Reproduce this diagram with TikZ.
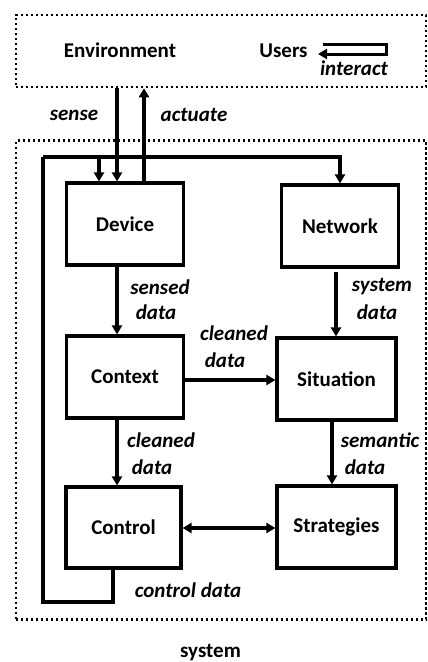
\documentclass[tikz,border=0pt]{standalone}
\usepackage{fontspec}
\setmainfont{Carlito}
\usetikzlibrary{arrows.meta,calc}
\begin{document}
\begin{tikzpicture}[x=1pt,y=-1pt,
  box/.style={draw,line width=3.2pt,minimum width=117pt,minimum height=82pt,inner sep=0pt,font=\fontsize{21}{24}\selectfont\bfseries},
  frame/.style={draw,line width=2.5pt,dash pattern=on 2.4pt off 2.6pt,inner sep=0pt},
  lbl/.style={inner sep=0pt,font=\fontsize{21}{24}\selectfont\bfseries\itshape},
  txt/.style={inner sep=0pt,font=\fontsize{21}{24}\selectfont\bfseries},
  arr/.style={line width=3.2pt,-{Triangle[length=9pt,width=10pt]}},
  ln/.style={line width=3.2pt},
  darr/.style={line width=3.2pt,{Triangle[length=9pt,width=10pt]}-{Triangle[length=9pt,width=10pt]}}]
\useasboundingbox (0,0) rectangle (428,662);
% frames
\node[frame,minimum width=410pt,minimum height=72pt] (env) at (221,51) {};
\node[frame,minimum width=410pt,minimum height=479pt] (sys) at (221,380) {};
\node[txt] (envt) at (120,50) {Environment};
\node[txt] (users) at (283.5,51) {Users};
\node[lbl] (interact) at (354,68) {interact};
\node[txt] (syst) at (210.5,653) {system};
% boxes
\node[box] (device) at (125,224) {Device};
\node[box] (network) at (340,226) {Network};
\node[box] (context) at (125,377) {Context};
\node[box,minimum width=119pt] (situation) at (336.5,379) {Situation};
\node[box,minimum width=115pt,minimum height=81pt] (control) at (123.5,527.5) {Control};
\node[box,minimum width=119pt] (strategies) at (336.5,527) {Strategies};
% helper coordinates
\coordinate (sx) at (117,0);
\coordinate (ax) at (144,0);
\coordinate (bx) at (99,0);
\coordinate (lx) at (43,0);
\coordinate (cx) at (113,0);
\coordinate (nx) at (336,0);
\coordinate (tx) at (332,0);
\coordinate (fy) at (0,157);
\coordinate (cy) at (0,602);
\coordinate (ny) at (0,272);
\coordinate (hy) at (0,380);
\coordinate (dy) at (0,528);
\coordinate (u1) at (323,44);
\coordinate (u2) at (386,44);
\coordinate (u3) at (386,54);
\coordinate (u4) at (318,54);
% users interact
\draw[line width=3pt,-{Triangle[length=9pt,width=10pt]}] (u1) -- (u2) -- (u3) -- (u4);
% sense / actuate
\draw[arr] (env.south -| sx) -- (sx |- device.north);
\draw[arr] (ax |- device.north) -- (env.south -| ax);
\node[lbl] (sense) at (74,115) {sense};
\node[lbl] (actuate) at (194,115) {actuate};
% feedback loop
\draw[ln] (cx |- control.south) -- (cx |- cy) -- (lx |- cy) -- (lx |- fy);
\draw[arr] (lx |- fy) -| (network.north);
\draw[arr] (bx |- fy) -- (bx |- device.north);
\node[lbl] (cd) at (188,590) {control data};
% data flow
\draw[arr] (sx |- device.south) -- (sx |- context.north);
\node[lbl] (sd1) at (160,287) {sensed};
\node[lbl] (sd2) at (156,312) {data};
\draw[arr] (nx |- ny) -- (nx |- situation.north);
\node[lbl] (sy1) at (382,287) {system};
\node[lbl] (sy2) at (377,312) {data};
\draw[arr] (context.east |- hy) -- (situation.west |- hy);
\node[lbl] (cl1) at (234,333) {cleaned};
\node[lbl] (cl2) at (225,360) {data};
\draw[arr] (sx |- context.south) -- (sx |- control.north);
\node[lbl] (cc1) at (161,440) {cleaned};
\node[lbl] (cc2) at (152,467) {data};
\draw[arr] (tx |- situation.south) -- (tx |- strategies.north);
\node[lbl] (se1) at (380,440) {semantic};
\node[lbl] (se2) at (365,467) {data};
\draw[darr] (control.east |- dy) -- (strategies.west |- dy);
\end{tikzpicture}
\end{document}
